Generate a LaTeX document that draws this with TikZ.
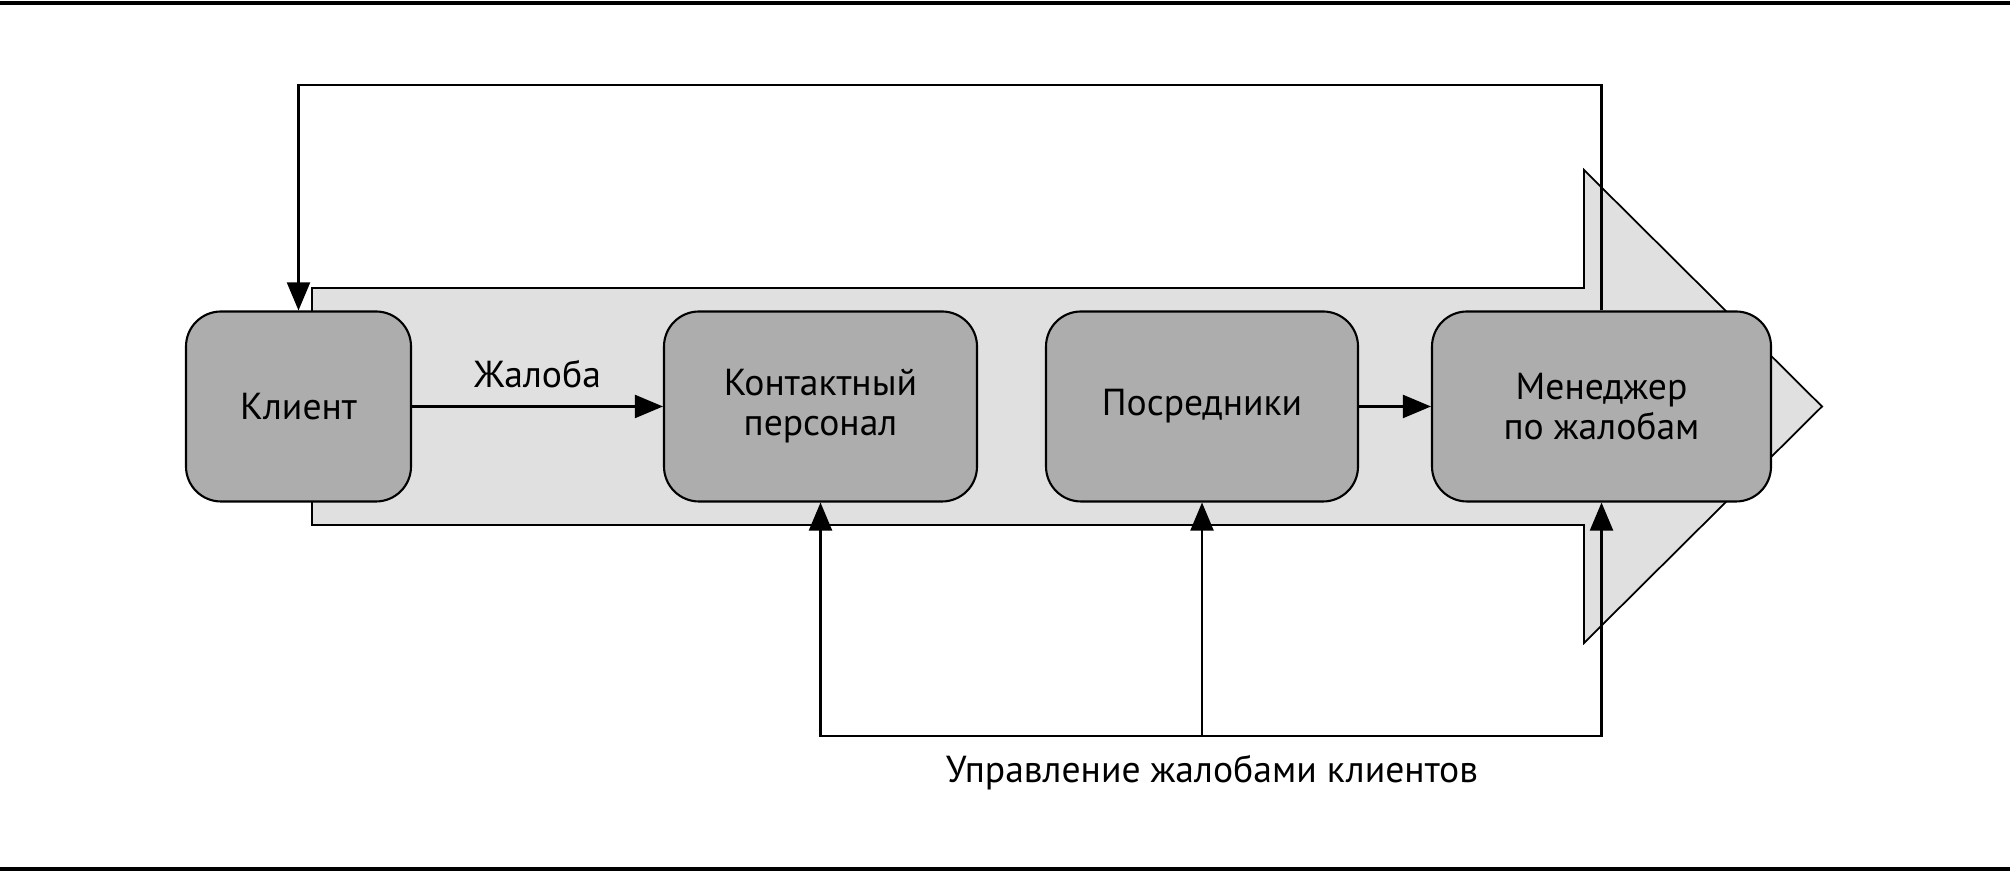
\documentclass[tikz,border=0pt]{standalone}
\usepackage{fontspec}
\setmainfont{PT Sans}
\usepackage{xcolor}
\usetikzlibrary{arrows.meta,positioning}

\definecolor{boxgray}{RGB}{173,173,173}
\definecolor{flowgray}{RGB}{224,224,224}

\begin{document}
\begin{tikzpicture}[
  box/.style={draw, line width=0.6pt, fill=boxgray, rounded corners=3.5mm, minimum height=1.9cm, align=center, inner sep=0pt, font=\fontsize{10.7}{11.4}\selectfont},
  arr/.style={-{Triangle[length=2.8mm, width=2.3mm]}, line width=0.6pt},
  lab/.style={font=\fontsize{10.7}{11.4}\selectfont},
  rule/.style={line width=0.9pt}
]
\useasboundingbox (0,0) rectangle (20.10,8.73);

% Page rules
\draw[rule] (0,8.70) -- (20.10,8.70);
\draw[rule] (0,0.04) -- (20.10,0.04);

% Process arrow
\draw[line width=0.5pt, fill=flowgray] (3.12,3.48) -- (15.84,3.48) -- (15.84,2.30) -- (18.22,4.665)
  -- (15.84,7.03) -- (15.84,5.85) -- (3.12,5.85) -- cycle;

% Participants
\node[box, minimum width=2.25cm] (client) at (2.985,4.665) {Клиент};
\node[box, minimum width=3.13cm] (contact) at (8.205,4.665) {Контактный\\персонал};
\node[box, minimum width=3.12cm] (agents) at (12.02,4.665) {Посредники};
\node[box, minimum width=3.39cm] (manager) at (16.015,4.665) {Менеджер\\по жалобам};

% Complaint flow
\draw[arr] (client) -- node[lab, above=1.5pt] (complaint) {Жалоба} (contact);
\draw[arr] (agents) -- (manager);

% Feedback to client
\draw[arr] (manager.north) -- ++(0,2.25) -| (client.north);

% Management
\coordinate (ctrl) at (12.02,1.37);
\draw[arr] (ctrl) -| (contact.south);
\draw[arr] (ctrl) -- (agents.south);
\draw[arr] (ctrl) -| (manager.south);
\node[lab, anchor=base] (ctrllab) at (12.12,0.90) {Управление жалобами клиентов};

\end{tikzpicture}
\end{document}
